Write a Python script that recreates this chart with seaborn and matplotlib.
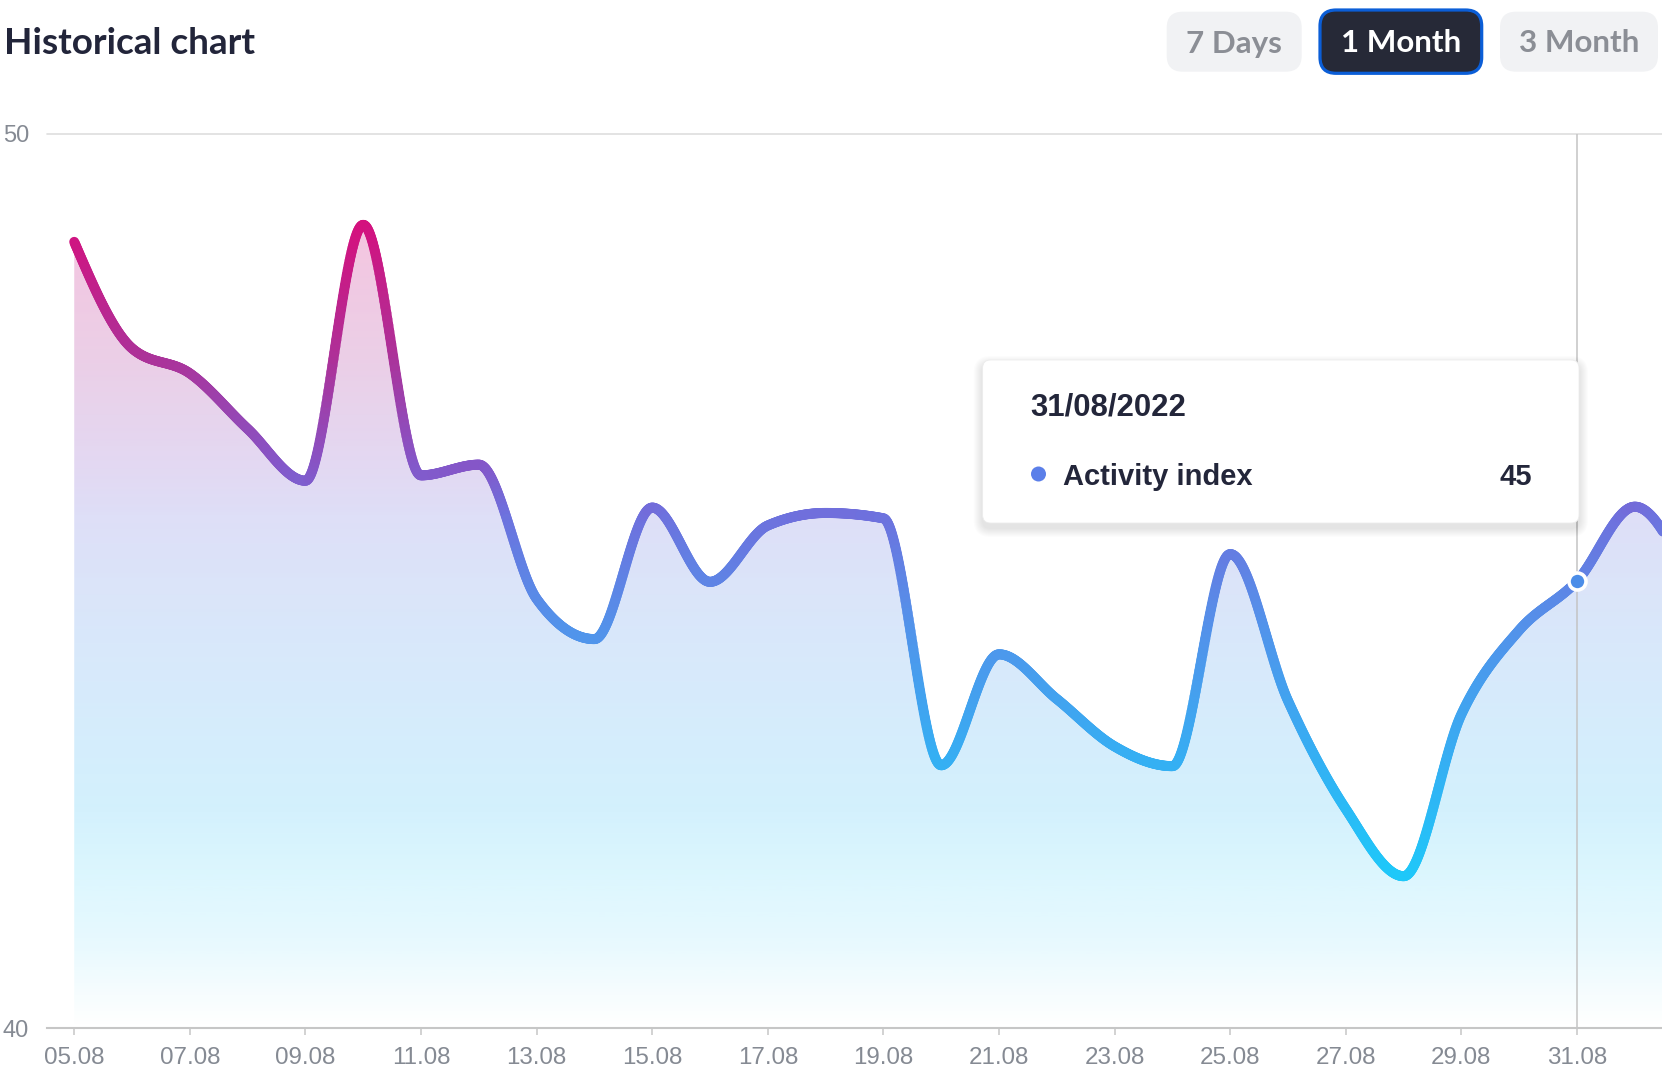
import numpy as np
import pandas as pd
import matplotlib
matplotlib.use("Agg")
import matplotlib.pyplot as plt
import seaborn as sns
from matplotlib.collections import LineCollection
from matplotlib.colors import LinearSegmentedColormap, Normalize
from matplotlib.patches import FancyBboxPatch, Circle
from matplotlib.transforms import Affine2D

# daily activity index, 05.08.2022 - 02.09.2022
dates = pd.date_range("2022-08-05", "2022-09-02", freq="D")
values = [48.79, 47.60, 47.32, 46.70, 46.12, 48.98, 46.18, 46.30, 44.80, 44.35,
          45.82, 44.99, 45.62, 45.76, 45.70, 42.94, 44.18, 43.68, 43.15, 42.93,
          45.30, 43.66, 42.45, 41.70, 43.51, 44.45, 45.00, 45.83, 44.90]
y_ticks = [40, 50]
highlight_date = "2022-08-31"
series_name = "Activity index"
ranges = ["7 Days", "1 Month", "3 Month"]
active_range = "1 Month"

W, H = 1662, 1084


def monotone(x, y, n=60):
    # monotone cubic (d3 monotoneX style) just for drawing the smooth curve
    x = np.asarray(x, float)
    y = np.asarray(y, float)
    h = np.diff(x)
    s = np.diff(y) / h
    m = np.zeros_like(y)
    for i in range(1, len(y) - 1):
        p = (s[i - 1] * h[i] + s[i] * h[i - 1]) / (h[i - 1] + h[i])
        m[i] = (np.sign(s[i - 1]) + np.sign(s[i])) * min(abs(s[i - 1]), abs(s[i]), 0.5 * abs(p))
    m[0] = (3 * s[0] - m[1]) / 2
    m[-1] = (3 * s[-1] - m[-2]) / 2
    xs, ys = [], []
    for i in range(len(y) - 1):
        t = np.linspace(0, 1, n, endpoint=False)
        h00 = 2 * t**3 - 3 * t**2 + 1
        h10 = t**3 - 2 * t**2 + t
        h01 = -2 * t**3 + 3 * t**2
        h11 = t**3 - t**2
        xs.append(x[i] + t * h[i])
        ys.append(h00 * y[i] + h10 * h[i] * m[i] + h01 * y[i + 1] + h11 * h[i] * m[i + 1])
    xs.append([x[-1]])
    ys.append([y[-1]])
    return np.concatenate(xs), np.concatenate(ys)


sns.set_theme(style="white")
plt.rcParams["font.family"] = ["Liberation Sans", "DejaVu Sans"]

fig = plt.figure(figsize=(W / 100, H / 100), dpi=100)
ax = fig.add_axes([46.6 / W, 1 - 1028.3 / H, 1 - 46.6 / W, (1028.3 - 133.6) / H])

days = np.array((dates - dates[0]).days, dtype=float)
xs, ys = monotone(days, values)

cmap = LinearSegmentedColormap.from_list("activity", [
    (0.0, "#1ec8f9"), (0.178, "#35aff3"), (0.384, "#5392ea"), (0.548, "#6d72de"),
    (0.630, "#8556c8"), (0.795, "#ac3299"), (1.0, "#d4117e")])
norm = Normalize(min(values), max(values))

# gradient area under the curve
poly = ax.fill_between(xs, ys, y_ticks[0], facecolor="none", edgecolor="none")
grad_v = np.linspace(y_ticks[0], y_ticks[1], 600)
rgba = cmap(norm(grad_v))
rgba[:, 3] = np.interp(grad_v, [40, 41, 42.5, 50], [0.0, 0.11, 0.21, 0.25])
im = ax.imshow(rgba[:, None, :], extent=[xs[0], xs[-1], y_ticks[0], y_ticks[1]],
               origin="lower", aspect="auto", zorder=1, interpolation="bilinear")
im.set_clip_path(poly.get_paths()[0], transform=ax.transData)

# gradient line
pts = np.column_stack([xs, ys])
segs = np.stack([pts[:-1], pts[1:]], axis=1)
lc = LineCollection(segs, colors=cmap(norm((ys[:-1] + ys[1:]) / 2)), linewidths=7.2, zorder=4)
lc.set_capstyle("round")
ax.add_collection(lc)

# hover guide + point
hx = float((pd.Timestamp(highlight_date) - dates[0]).days)
hy = values[int(hx)]
ax.axvline(hx, color="#c4c4c4", lw=1.1, zorder=3)
ax.axhline(y_ticks[1], color="#dedede", lw=1.2, zorder=0.5, clip_on=False)
sns.scatterplot(x=[hx], y=[hy], s=150, color="#4b8de8", edgecolor="white",
                linewidth=2.6, zorder=6, ax=ax, clip_on=False)

ax.set_xlim(-0.478, 27.47)
ax.set_ylim(y_ticks[0], y_ticks[1])
tick_days = days[days <= hx][::2]
ax.set_xticks(tick_days)
ax.set_xticklabels([d.strftime("%d.%m") for d in dates[tick_days.astype(int)]])
ax.set_yticks(y_ticks)
ax.set_xlabel("")
ax.set_ylabel("")
for side in ["top", "right", "left"]:
    ax.spines[side].set_visible(False)
ax.spines["bottom"].set_color("#c6c6c6")
ax.spines["bottom"].set_linewidth(1.5)
ax.spines["bottom"].set_zorder(5)
ax.tick_params(axis="x", bottom=True, length=4.8, width=1.1, color="#c6c6c6",
               pad=9, labelsize=17.4, labelcolor="#858a93")
ax.tick_params(axis="y", left=False, length=0, pad=12.7, labelsize=17, labelcolor="#858a93")

# header, range buttons, tooltip in pixel coords (y from top)
T = Affine2D().scale(1 / W, -1 / H).translate(0, 1) + fig.transFigure


def rbox(x0, y0, x1, y1, r, **kw):
    p = FancyBboxPatch((x0, y0), x1 - x0, y1 - y0, boxstyle=f"round,pad=0,rounding_size={r}",
                       mutation_scale=1, transform=T, **kw)
    fig.add_artist(p)
    return p


head_font = ["Lato", "DejaVu Sans"]
fig.text(4, 54, "Historical chart", transform=T, family=head_font, weight="bold",
         size=26.6, color="#22253a", va="baseline")

btn_boxes = [(1166.7, 11.7, 1301.7, 71.7), (1320, 10, 1481.7, 73.3), (1500, 11.7, 1658, 71.7)]
for label, (x0, y0, x1, y1) in zip(ranges, btn_boxes):
    if label == active_range:
        rbox(x0, y0, x1, y1, 16, facecolor="#262937", edgecolor="#0b5ed7", linewidth=2.3, zorder=5)
        col = "white"
    else:
        rbox(x0, y0, x1, y1, 16, facecolor="#f1f2f4", edgecolor="none", zorder=5)
        col = "#8b8e95"
    fig.text((x0 + x1) / 2, 52.5, label, transform=T, family=head_font, weight="bold",
             size=22.6, color=col, ha="center", va="baseline", zorder=6)

tx0, ty0, tx1, ty1 = 982.6, 360, 1579, 523
for i in range(1, 10):
    rbox(tx0 - i, ty0 - i + 5, tx1 + i, ty1 + i + 5, 8 + i, facecolor="black",
         edgecolor="none", alpha=0.011, zorder=7)
rbox(tx0, ty0, tx1, ty1, 8, facecolor="white", edgecolor="#ececec", linewidth=0.6, zorder=8)
fig.text(1030, 415, pd.Timestamp(highlight_date).strftime("%d/%m/%Y"), transform=T,
         weight="bold", size=22.4, color="#23263a", va="baseline", zorder=9)
fig.text(1063, 485, series_name, transform=T, weight="bold", size=21,
         color="#23263a", va="baseline", zorder=9)
fig.text(1531.7, 485, f"{hy:.0f}", transform=T, weight="bold", size=21,
         color="#23263a", ha="right", va="baseline", zorder=9)
fig.add_artist(Circle((1038.5, 474), 7.5, transform=T,
                      facecolor="#5b7fe9", edgecolor="none", zorder=9))

fig.savefig("out.png", dpi=100)
